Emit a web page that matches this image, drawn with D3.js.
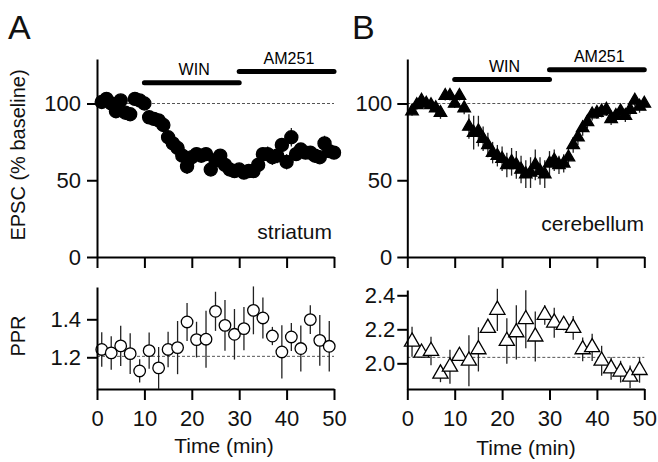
<!DOCTYPE html>
<html>
<head>
<meta charset="utf-8">
<script src="https://cdn.jsdelivr.net/npm/d3@7/dist/d3.min.js"></script>
<style>
  body { margin: 0; background: #fff; }
  svg { display: block; font-family: 'Liberation Sans', Arial, sans-serif; }
</style>
</head>
<body>
<svg id="chart" width="658" height="462"></svg>
<script>
// time points (min)
const timeEpsc = [1,2,3,4,5,6,7,8,9,10,11,12,13,14,15,16,17,18,19,20,21,22,23,24,25,
  26,27,28,29,30,31,32,33,34,35,36,37,38,39,40,41,42,43,44,45,46,47,48,49,50];
const timePpr = [1,3,5,7,9,11,13,15,17,19,21,23,25,27,29,31,33,35,37,39,41,43,45,47,49];

// EPSC (% baseline)
const epscStriatum = [101,103,100,95,102,94,93,103,102,100,91,90,89,86,78,74,71,66,59,65,
  67,66,67,57,63,66,60,57,56,57,55,56,56,60,67,67,65,66,73,62,78,67,70,68,68,66,65,74,69,68];
const epscStriatumErr = [3,3,3,3,3,3,4,3,3,3,3,3,3,4,4,4,4,4,5,4,4,4,4,4,4,
  4,4,4,4,4,4,4,4,4,4,5,5,5,4,5,6,4,4,4,4,4,4,5,4,4];
const epscCerebellum = [95,99,102,100,99,97,94,105,105,100,105,97,85,81,82,77,73,68,66,64,
  60,62,60,57,54,55,60,56,54,61,63,60,61,65,73,78,84,88,93,94,95,96,90,92,95,92,96,102,98,100];
const epscCerebellumErr = [3,3,3,3,3,3,4,3,3,3,3,4,8,11,10,8,8,7,7,8,8,9,9,9,9,
  10,10,9,9,8,7,6,6,6,5,5,5,4,4,4,4,4,4,4,4,4,4,4,4,4];

// paired-pulse ratio
const pprStriatum = [1.241,1.223,1.26,1.219,1.128,1.235,1.144,1.241,1.251,1.386,1.293,1.295,1.442,
  1.368,1.321,1.351,1.447,1.407,1.312,1.228,1.307,1.246,1.398,1.289,1.258];
const pprStriatumErr = [0.091,0.088,0.106,0.107,0.061,0.096,0.11,0.094,0.14,0.1,0.094,0.15,0.103,
  0.133,0.133,0.114,0.126,0.108,0.048,0.14,0.074,0.121,0.076,0.133,0.133];
const pprCerebellum = [2.127,2.062,2.072,1.939,1.98,2.043,2.015,2.082,2.208,2.314,2.131,2.182,2.259,
  2.157,2.284,2.239,2.225,2.208,2.082,2.094,2.015,1.97,1.951,1.921,1.96];
const pprCerebellumErr = [0.088,0.03,0.084,0.05,0.1,0.03,0.15,0.13,0.03,0.124,0.134,0.16,0.17,
  0.147,0.057,0.088,0.03,0.07,0.07,0.08,0.088,0.066,0.064,0.066,0.074];

// drug application bars
const drugNames = ['WIN', 'AM251'];
const drugStart = [10, 30];
const drugEnd = [30, 50];
const drugLevelA = [113.6, 120.8];
const drugLevelB = [115.6, 122];

const timeTicks = [0, 10, 20, 30, 40, 50];
const epscTicks = [0, 50, 100];
const pprTicksA = [1.2, 1.4];
const pprTicksB = [2.0, 2.2, 2.4];

const svg = d3.select('#chart');

const xA = d3.scaleLinear().domain([0, 50]).range([97, 334]);
const xB = d3.scaleLinear().domain([0, 50]).range([407.3, 644.3]);
const yTop = d3.scaleLinear().domain([0, 129]).range([257, 59]);
const yPprA = d3.scaleLinear().domain([1.033, 1.57]).range([389, 287]);
const yPprB = d3.scaleLinear().domain([1.849, 2.431]).range([389, 290]);

function styleAxis(g) {
  g.select('.domain').attr('stroke', '#000').attr('stroke-width', 2);
  g.selectAll('.tick line').attr('stroke', '#000').attr('stroke-width', 2);
  g.selectAll('.tick text').attr('fill', '#111').style('font-size', '22px');
}

function drawAxes(x, y, yTicks, fmt, baseY, showXLabels, pad) {
  svg.append('g')
    .attr('transform', `translate(${x(0)},0)`)
    .call(d3.axisLeft(y).tickValues(yTicks).tickFormat(fmt).tickSize(10).tickSizeOuter(0).tickPadding(pad))
    .call(styleAxis);
  svg.append('g')
    .attr('transform', `translate(0,${baseY})`)
    .call(d3.axisBottom(x).tickValues(timeTicks).tickSize(11).tickSizeOuter(0)
      .tickPadding(10).tickFormat(showXLabels ? d3.format('d') : ''))
    .call(styleAxis);
}

function drawBaseline(x, y, v) {
  svg.append('line')
    .attr('x1', x(0)).attr('x2', x(50))
    .attr('y1', y(v)).attr('y2', y(v))
    .attr('stroke', '#555').attr('stroke-width', 1)
    .attr('stroke-dasharray', '3,2');
}

function drawErrors(x, y, t, v, e) {
  svg.append('g').selectAll('line')
    .data(t)
    .enter()
    .append('line')
    .attr('x1', (d) => x(d)).attr('x2', (d) => x(d))
    .attr('y1', (d, i) => y(v[i] - e[i]))
    .attr('y2', (d, i) => y(v[i] + e[i]))
    .attr('stroke', '#222').attr('stroke-width', 1.3);
}

function drawMarkers(x, y, t, v, shape, size, fill) {
  svg.append('g').selectAll('path')
    .data(t)
    .enter()
    .append('path')
    .attr('transform', (d, i) => `translate(${x(d)},${y(v[i])})`)
    .attr('d', d3.symbol().type(shape).size(size))
    .attr('fill', fill)
    .attr('stroke', '#000')
    .attr('stroke-width', 1.3);
}

function drawDrugs(x, y, levels) {
  drugNames.forEach((name, i) => {
    svg.append('line')
      .attr('x1', x(drugStart[i])).attr('x2', x(drugEnd[i]))
      .attr('y1', y(levels[i])).attr('y2', y(levels[i]))
      .attr('stroke', '#000').attr('stroke-width', 5)
      .attr('stroke-linecap', 'round');
    svg.append('text')
      .attr('x', x((drugStart[i] + drugEnd[i]) / 2 + 0.5))
      .attr('y', y(levels[i]) - 8)
      .attr('text-anchor', 'middle')
      .style('font-size', '16px')
      .text(name);
  });
}

// top panels
drawBaseline(xA, yTop, 100);
drawBaseline(xB, yTop, 100);
drawErrors(xA, yTop, timeEpsc, epscStriatum, epscStriatumErr);
drawMarkers(xA, yTop, timeEpsc, epscStriatum, d3.symbolCircle, 135, '#000');
drawErrors(xB, yTop, timeEpsc, epscCerebellum, epscCerebellumErr);
drawMarkers(xB, yTop, timeEpsc, epscCerebellum, d3.symbolTriangle, 68, '#000');
drawAxes(xA, yTop, epscTicks, d3.format('d'), yTop(0), false, 6);
drawAxes(xB, yTop, epscTicks, d3.format('d'), yTop(0), false, 5);
drawDrugs(xA, yTop, drugLevelA);
drawDrugs(xB, yTop, drugLevelB);

// bottom panels
drawBaseline(xA, yPprA, 1.205);
drawBaseline(xB, yPprB, 2.035);
drawErrors(xA, yPprA, timePpr, pprStriatum, pprStriatumErr);
drawMarkers(xA, yPprA, timePpr, pprStriatum, d3.symbolCircle, 105, '#fff');
drawErrors(xB, yPprB, timePpr, pprCerebellum, pprCerebellumErr);
drawMarkers(xB, yPprB, timePpr, pprCerebellum, d3.symbolTriangle, 100, '#fff');
drawAxes(xA, yPprA, pprTicksA, d3.format('.1f'), 389, true, 6);
drawAxes(xB, yPprB, pprTicksB, d3.format('.1f'), 389, true, 2);

// labels
const labels = [
  { t: 'A', x: 8, y: 39, size: 34, anchor: 'start' },
  { t: 'B', x: 352, y: 39, size: 34, anchor: 'start' },
  { t: 'striatum', x: 332, y: 239, size: 21, anchor: 'end' },
  { t: 'cerebellum', x: 644, y: 231, size: 21, anchor: 'end' },
  { t: 'Time (min)', x: 224, y: 453, size: 21, anchor: 'middle' },
  { t: 'Time (min)', x: 526, y: 455, size: 21, anchor: 'middle' }
];
svg.append('g').selectAll('text')
  .data(labels)
  .enter()
  .append('text')
  .attr('x', (d) => d.x).attr('y', (d) => d.y)
  .attr('text-anchor', (d) => d.anchor)
  .style('font-size', (d) => d.size + 'px')
  .attr('fill', '#111')
  .text((d) => d.t);

svg.append('text')
  .attr('transform', 'translate(25,155) rotate(-90)')
  .attr('text-anchor', 'middle')
  .style('font-size', '20px')
  .attr('fill', '#111')
  .text('EPSC (% baseline)');
svg.append('text')
  .attr('transform', 'translate(25,336) rotate(-90)')
  .attr('text-anchor', 'middle')
  .style('font-size', '20px')
  .attr('fill', '#111')
  .text('PPR');
</script>
</body>
</html>
